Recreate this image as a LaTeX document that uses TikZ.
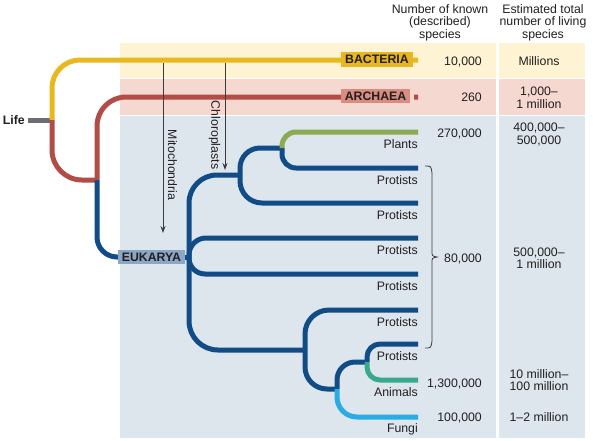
\documentclass[tikz,border=0pt]{standalone}
\usepackage{fontspec}
\setmainfont{Liberation Sans}
\usetikzlibrary{arrows.meta}
\definecolor{bandY}{HTML}{FEF3D3}
\definecolor{bandR}{HTML}{F5D8D0}
\definecolor{bandB}{HTML}{DDE5ED}
\definecolor{lineY}{HTML}{E9B81E}
\definecolor{lineR}{HTML}{B14C47}
\definecolor{lineB}{HTML}{124C86}
\definecolor{lineG}{HTML}{8BAA52}
\definecolor{lineT}{HTML}{3AA88A}
\definecolor{lineF}{HTML}{2AACE2}
\definecolor{lifeG}{HTML}{6D6E71}
\definecolor{boxY}{HTML}{E8B620}
\definecolor{boxR}{HTML}{D98C80}
\definecolor{boxB}{HTML}{8CA6C6}
\definecolor{txt}{HTML}{231F20}
\definecolor{arrC}{HTML}{3B3B3B}
\begin{document}
\begin{tikzpicture}[x=1pt,y=-1pt,
  every node/.style={font=\fontsize{12.3}{12.5}\selectfont, text=txt, inner sep=0pt},
  branch/.style={line width=5pt, line cap=butt, line join=round},
  lab/.style={font=\fontsize{12.3}{12.5}\selectfont\bfseries, text=txt},
  leaf/.style={anchor=base east},
  num/.style={anchor=base east},
  est/.style={align=center},
  arr/.style={arrC, line width=0.9pt, -{Stealth[length=7pt,width=5pt]}},
  brace/.style={arrC, line width=0.8pt}
]
\useasboundingbox (0,0) rectangle (593,440);
% bands
\fill[bandY] (120,43) rectangle (496,78);
\fill[bandY] (499,43) rectangle (585,78);
\fill[bandR] (120,79) rectangle (496,115);
\fill[bandR] (499,79) rectangle (585,115);
\fill[bandB] (120,116) rectangle (496,438);
\fill[bandB] (499,116) rectangle (585,438);
% headers
\node[est] (h1) at (440,22.5) {Number of known\\(described)\\species};
\node[est] (h2) at (543,22.5) {Estimated total\\number of living\\species};
% coordinates
\coordinate (L) at (52,120);
\coordinate (Lg) at (28,120);
\coordinate (JA) at (97,180);
\coordinate (J0) at (189,257);
\coordinate (J1) at (240,175);
\coordinate (J2) at (282,148);
\coordinate (J3) at (305,350);
\coordinate (J4) at (337,389);
\coordinate (J5) at (367,362);
\coordinate (eB) at (418,60);
\coordinate (eA) at (418,97);
\coordinate (ePl) at (418,132);
\coordinate (eP1) at (418,168);
\coordinate (eP2) at (418,203);
\coordinate (eP3) at (418,238);
\coordinate (eP4) at (418,274);
\coordinate (eP5) at (418,310);
\coordinate (eP6) at (418,344);
\coordinate (eAn) at (418,380);
\coordinate (eFu) at (418,417);
% life
\node[lab, anchor=east] (life) at (25,120) {Life};
\draw[branch, lifeG] (Lg) -- (L);
% bacteria & archaea
\draw[branch, lineY, rounded corners=28pt] (L) |- (eB);
\draw[branch, lineR, rounded corners=30pt] (L) |- (JA);
\draw[branch, lineR, rounded corners=29pt] (JA) |- (eA);
% eukarya
\node[lab, fill=boxB, minimum width=67pt, minimum height=14pt] (euk) at (151.5,257) {EUKARYA};
\draw[branch, lineB, rounded corners=20pt] (JA) |- (euk.west);
\draw[branch, lineB] (euk.east) -- (J0);
\draw[branch, lineB, rounded corners=28pt] (J0) |- (J1);
\draw[branch, lineB, rounded corners=20pt] (J1) |- (J2);
\draw[branch, lineB, rounded corners=14pt] (J2) |- (eP1);
\draw[branch, lineG, rounded corners=14pt] (J2) |- (ePl);
\draw[branch, lineB, rounded corners=22pt] (J1) |- (eP2);
\draw[branch, lineB, rounded corners=17pt] (J0) |- (eP3);
\draw[branch, lineB, rounded corners=16pt] (J0) |- (eP4);
\draw[branch, lineB, rounded corners=29pt] (J0) |- (J3);
\draw[branch, lineB, rounded corners=24pt] (J3) |- (eP5);
\draw[branch, lineB, rounded corners=22pt] (J3) |- (J4);
\draw[branch, lineB, rounded corners=18pt] (J4) |- (J5);
\draw[branch, lineF, rounded corners=20pt] (J4) |- (eFu);
\draw[branch, lineB, rounded corners=13pt] (J5) |- (eP6);
\draw[branch, lineT, rounded corners=13pt] (J5) |- (eAn);
% endosymbiosis arrows
\coordinate (mtop) at (163,62.5);
\coordinate (mtip) at (163,233);
\coordinate (ctop) at (225,62.5);
\coordinate (ctip) at (225,170);
\draw[arr] (mtop) -- (mtip);
\draw[arr] (ctop) -- (ctip);
\node[rotate=-90] (mito) at (172.5,165) {Mitochondria};
\node[rotate=-90] (chlo) at (214.5,135) {Chloroplasts};
% domain labels
\fill[bandR] (410,93) rectangle (414,101);
\node[lab, fill=boxY, minimum width=72pt, minimum height=15pt] (bac) at (377,59.5) {BACTERIA};
\node[lab, fill=boxR, minimum width=69pt, minimum height=14pt] (arc) at (375.5,96) {ARCHAEA};
% leaf labels
\node[leaf] (tPl) at (418,148) {Plants};
\node[leaf] (tP1) at (418,184) {Protists};
\node[leaf] (tP2) at (418,219) {Protists};
\node[leaf] (tP3) at (418,254) {Protists};
\node[leaf] (tP4) at (418,290) {Protists};
\node[leaf] (tP5) at (418,326) {Protists};
\node[leaf] (tP6) at (418,360) {Protists};
\node[leaf] (tAn) at (418,396) {Animals};
\node[leaf] (tFu) at (418,432) {Fungi};
% brace
\draw[brace] (425,166) .. controls (431,166) .. (432,173) -- (432,251)
  .. controls (432,256) .. (437,257) .. controls (432,258) .. (432,263)
  -- (432,341) .. controls (431,348) .. (425,348);
% known numbers
\node[num] (nB) at (482,65) {10,000};
\node[num] (nA) at (482,101) {260};
\node[num] (nPl) at (482,137.5) {270,000};
\node[num] (nPr) at (482,262) {80,000};
\node[num] (nAn) at (482,387) {1,300,000};
\node[num] (nFu) at (482,421) {100,000};
% estimates
\node[num, anchor=base] (sB) at (539,65) {Millions};
\node[est] (sA) at (539,97.6) {1,000–\\1 million};
\node[est] (sPl) at (539,134.5) {400,000–\\500,000};
\node[est] (sPr) at (539,258.5) {500,000–\\1 million};
\node[est] (sAn) at (539,380) {10 million–\\100 million};
\node[num, anchor=base] (sFu) at (539,421) {1–2 million};
\end{tikzpicture}
\end{document}
